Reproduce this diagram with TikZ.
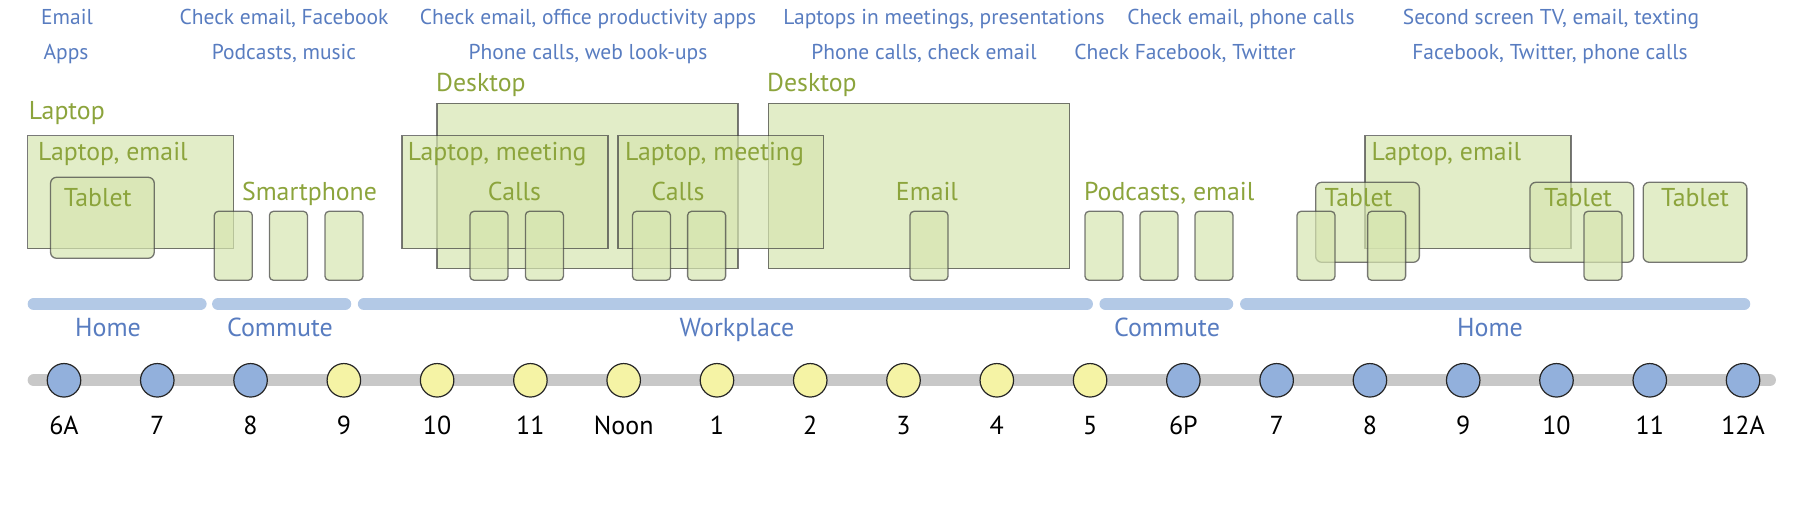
\documentclass[tikz,border=0pt]{standalone}
\usepackage{fontspec}
\setmainfont{PT Sans}
\usetikzlibrary{shapes.geometric}
\definecolor{topblue}{RGB}{88,124,192}
\definecolor{grntext}{RGB}{140,164,60}
\definecolor{boxfill}{RGB}{214,229,176}
\definecolor{barblue}{RGB}{179,201,230}
\definecolor{linegray}{RGB}{200,200,200}
\definecolor{dotblue}{RGB}{146,176,220}
\definecolor{dotyellow}{RGB}{245,243,165}
\begin{document}
\begin{tikzpicture}[x=1pt,y=-1pt,
  toplbl/.style={anchor=base,text=topblue,font=\fontsize{21.5}{26}\selectfont,inner sep=0},
  grnlbl/.style={anchor=base,text=grntext,font=\fontsize{25.8}{30}\selectfont,inner sep=0},
  grnleft/.style={grnlbl,anchor=base west},
  loclbl/.style={anchor=base,text=topblue,font=\fontsize{26}{30}\selectfont,inner sep=0},
  hourlbl/.style={anchor=base,text=black,font=\fontsize{26}{30}\selectfont,inner sep=0},
  devbox/.style={draw=black!75,fill=boxfill,opacity=0.7,line width=1.3pt,inner sep=0,outer sep=0},
  rectbox/.style={devbox,rectangle},
  tabbox/.style={devbox,rectangle,rounded corners=6pt,minimum width=103.7},
  phonebox/.style={devbox,rectangle,rounded corners=4pt,minimum width=38,minimum height=69},
  bar/.style={barblue,line width=12.3pt,line cap=round},
  dot/.style={circle,draw=black!85,line width=1.2pt,minimum size=33.5,inner sep=0},
  bdot/.style={dot,fill=dotblue},
  ydot/.style={dot,fill=dotyellow}]
\useasboundingbox (0,0) rectangle (1797,510);

% top activity labels
\node[toplbl] (t1a) at (67,24.3) {Email};
\node[toplbl] (t1b) at (66,59.3) {Apps};
\node[toplbl] (t2a) at (284,24.3) {Check email, Facebook};
\node[toplbl] (t2b) at (284,59.3) {Podcasts, music};
\node[toplbl] (t3a) at (588,24.3) {Check email, office productivity apps};
\node[toplbl] (t3b) at (588,59.3) {Phone calls, web look-ups};
\node[toplbl] (t4a) at (944,24.3) {Laptops in meetings, presentations};
\node[toplbl] (t4b) at (924,59.3) {Phone calls, check email};
\node[toplbl] (t5a) at (1241,24.3) {Check email, phone calls};
\node[toplbl] (t5b) at (1185,59.3) {Check Facebook, Twitter};
\node[toplbl] (t6a) at (1551,24.3) {Second screen TV, email, texting};
\node[toplbl] (t6b) at (1550,59.3) {Facebook, Twitter, phone calls};

% large boxes
\node[rectbox,minimum width=206,minimum height=113] (lap1) at (130.5,192.2) {};
\node[rectbox,minimum width=301,minimum height=165.4] (desk1) at (587.5,186) {};
\node[rectbox,minimum width=206,minimum height=113] (meet1) at (505,192.2) {};
\node[rectbox,minimum width=301.2,minimum height=165.4] (desk2) at (919,186) {};
\node[rectbox,minimum width=205.5,minimum height=113] (meet2) at (720.8,192.2) {};
\node[rectbox,minimum width=206,minimum height=113] (lap2) at (1468,192.2) {};

% tablets
\node[tabbox,minimum height=81] (tab1) at (102.4,217.8) {};
\node[tabbox,minimum height=80] (tab2) at (1367.5,222.3) {};
\node[tabbox,minimum height=80] (tab3) at (1581.8,222.3) {};
\node[tabbox,minimum height=80] (tab4) at (1695,222.3) {};

% phones
\foreach \x/\n in {233.3/p1,288.4/p2,344/p3,489/p4,544.4/p5,651.5/p6,706.6/p7,929/p8,1104/p9,1159/p10,1214/p11,1316/p12,1386.6/p13,1603/p14}
  \node[phonebox] (\n) at (\x,245.8) {};

% device labels
\node[grnleft] (gl1) at (28.7,120) {Laptop};
\node[grnleft] (gl2) at (436,91.7) {Desktop};
\node[grnleft] (gl3) at (767,91.7) {Desktop};
\node[grnleft] (gl4) at (38,161) {Laptop, email};
\node[grnleft] (gl5) at (407.6,161) {Laptop, meeting};
\node[grnleft] (gl6) at (625,161) {Laptop, meeting};
\node[grnleft] (gl7) at (1371.5,161) {Laptop, email};
\node[grnlbl] (gt1) at (97.7,206.7) {Tablet};
\node[grnlbl] (gt2) at (1358.5,206.7) {Tablet};
\node[grnlbl] (gt3) at (1578,206.7) {Tablet};
\node[grnlbl] (gt4) at (1695,206.7) {Tablet};
\node[grnlbl] (gs) at (309.5,200.7) {Smartphone};
\node[grnlbl] (gc1) at (514.5,200.7) {Calls};
\node[grnlbl] (gc2) at (678,200.7) {Calls};
\node[grnlbl] (ge) at (927,200.7) {Email};
\node[grnleft] (gp) at (1084,200.7) {Podcasts, email};

% location bars
\coordinate (h1s) at (33.8,304); \coordinate (h1e) at (200.5,304);
\coordinate (c1s) at (218.2,304); \coordinate (c1e) at (345.1,304);
\coordinate (ws) at (364,304); \coordinate (we) at (1086.8,304);
\coordinate (c2s) at (1105.6,304); \coordinate (c2e) at (1227.1,304);
\coordinate (h2s) at (1246.2,304); \coordinate (h2e) at (1744.1,304);
\draw[bar] (h1s) -- (h1e);
\draw[bar] (c1s) -- (c1e);
\draw[bar] (ws) -- (we);
\draw[bar] (c2s) -- (c2e);
\draw[bar] (h2s) -- (h2e);
\node[loclbl] (l1) at (108,336.7) {Home};
\node[loclbl] (l2) at (280,336.7) {Commute};
\node[loclbl] (l3) at (737,336.7) {Workplace};
\node[loclbl] (l4) at (1167,336.7) {Commute};
\node[loclbl] (l5) at (1490,336.7) {Home};

% timeline
\coordinate (tls) at (33.8,380.3); \coordinate (tle) at (1769.8,380.3);
\draw[linegray,line width=12.3pt,line cap=round] (tls) -- (tle);
\foreach \i/\lab/\st in {0/6A/bdot,1/7/bdot,2/8/bdot,3/9/ydot,4/10/ydot,5/11/ydot,6/Noon/ydot,7/1/ydot,8/2/ydot,9/3/ydot,10/4/ydot,11/5/ydot,12/6P/bdot,13/7/bdot,14/8/bdot,15/9/bdot,16/10/bdot,17/11/bdot,18/12A/bdot}{
  \node[\st] (d\i) at ({64+93.28*\i},380.3) {};
  \node[hourlbl] (h\i) at ({64+93.28*\i},434.3) {\lab};
}
\end{tikzpicture}
\end{document}
